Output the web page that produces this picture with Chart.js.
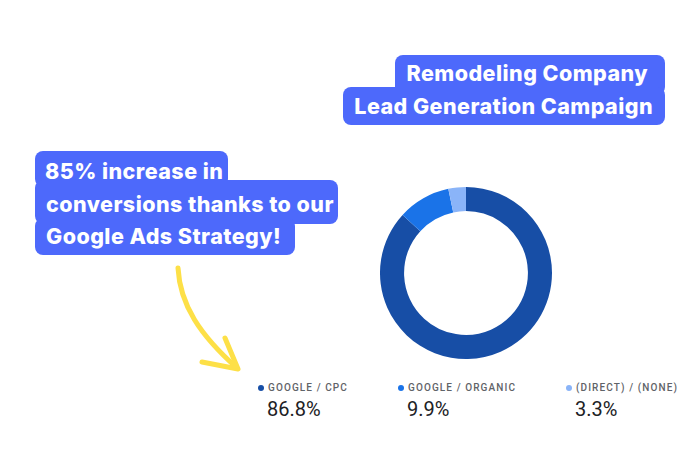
<!DOCTYPE html>
<html>
<head>
<meta charset="utf-8">
<script src="https://cdn.jsdelivr.net/npm/chart.js@4"></script>
<style>
  html, body { margin: 0; padding: 0; background: #fff; }
  #stage { position: relative; width: 700px; height: 450px; overflow: hidden; font-family: Inter, "Open Sans", sans-serif; }
  .box { position: absolute; background: #4d69fb; border-radius: 8px; }
  .txt { position: absolute; color: #fff; font-weight: 800; font-size: 21.5px; letter-spacing: 0.45px; white-space: nowrap; line-height: 1; }
  #chartWrap { position: absolute; left: 380px; top: 187px; width: 172px; height: 172px; }
  .leg { position: absolute; top: 382px; }
  .leg .lbl { font-family: Roboto, sans-serif; font-size: 10px; letter-spacing: 1.1px; color: #5f6368; font-weight: 500; position: relative; padding-left: 10px; }
  .leg .dot { position: absolute; left: 0; top: 3px; width: 6px; height: 6px; border-radius: 50%; }
  .leg .val { font-family: Roboto, sans-serif; font-size: 20px; color: #202124; margin-top: 4px; padding-left: 9px; }
</style>
</head>
<body>
<div id="stage">
  <!-- caja del título -->
  <div class="box" style="left:395px; top:55px; width:270px; height:40px;"></div>
  <div class="box" style="left:343px; top:87px; width:322px; height:38px;"></div>
  <div class="txt" style="right:52px; top:63px;">Remodeling Company</div>
  <div class="txt" style="right:47px; top:96px;">Lead Generation Campaign</div>

  <!-- caja de la izquierda -->
  <div class="box" style="left:35px; top:151px; width:193px; height:36px;"></div>
  <div class="box" style="left:35px; top:180px; width:303px; height:44px;"></div>
  <div class="box" style="left:35px; top:218px; width:260px; height:37px;"></div>
  <div class="txt" style="left:45px; top:161px;">85% increase in</div>
  <div class="txt" style="left:46px; top:194px;">conversions thanks to our</div>
  <div class="txt" style="left:46px; top:226px;">Google Ads Strategy!</div>

  <!-- flecha amarilla -->
  <svg style="position:absolute; left:0; top:0;" width="700" height="450">
    <path d="M178 268 C 180 305, 200 335, 237 368" fill="none" stroke="#fde047" stroke-width="5" stroke-linecap="round"/>
    <path d="M225 338 L 238 369 L 202 362" fill="none" stroke="#fde047" stroke-width="5" stroke-linecap="round" stroke-linejoin="round"/>
  </svg>

  <div id="chartWrap"><canvas id="chartFuentes"></canvas></div>
  <div id="legend"></div>
</div>

<script>
// Datos del gráfico
const fuentes = ["GOOGLE / CPC", "GOOGLE / ORGANIC", "(DIRECT) / (NONE)"];
const porcentajes = [86.8, 9.9, 3.3];
const colores = ["#174ea6", "#1a73e8", "#8ab4f8"];
const posLeyenda = [258, 398, 566];

// Dibujar la dona
const ctx = document.getElementById('chartFuentes').getContext('2d');
new Chart(ctx, {
  type: 'doughnut',
  data: {
    labels: fuentes,
    datasets: [{
      data: porcentajes,
      backgroundColor: colores,
      borderWidth: 0
    }]
  },
  options: {
    responsive: true,
    maintainAspectRatio: false,
    animation: false,
    cutout: '72%',
    plugins: { legend: { display: false }, tooltip: { enabled: false } }
  }
});

// Leyenda personalizada con porcentajes
const legend = document.getElementById('legend');
fuentes.forEach((f, i) => {
  const d = document.createElement('div');
  d.className = 'leg';
  d.style.left = posLeyenda[i] + 'px';
  d.innerHTML = `<div class="lbl"><span class="dot" style="background:${colores[i]}"></span>${f}</div>` +
                `<div class="val">${porcentajes[i].toFixed(1)}%</div>`;
  legend.appendChild(d);
});
</script>
</body>
</html>
